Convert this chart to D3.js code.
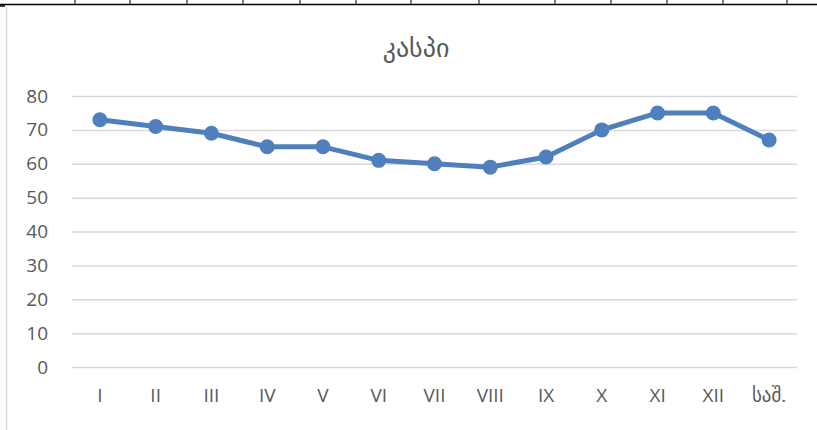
<!DOCTYPE html>
<html>
<head>
<meta charset="utf-8">
<script src="https://cdn.jsdelivr.net/npm/d3@7"></script>
<style>
  body { margin: 0; background: #fff; }
  svg { display: block; }
</style>
</head>
<body>
<div id="graf"></div>
<script>
const categorias = ["I", "II", "III", "IV", "V", "VI", "VII", "VIII", "IX", "X", "XI", "XII", "საშ."]
const valores = [73, 71, 69, 65, 65, 61, 60, 59, 62, 70, 75, 75, 67]
const yTicks = [0, 10, 20, 30, 40, 50, 60, 70, 80]
// marcas del borde de tabla arriba (px)
const bordeMarcas = [75, 130, 187, 243, 300, 356, 411, 479, 555, 611, 667, 723, 787]

const anchoTotal = 817
const altoTotal = 430
const margins = { top: 96, right: 20, bottom: 63, left: 72 }
const ancho = 797 - margins.left
const alto = 367 - margins.top

const svg = d3.select("#graf")
  .append("svg")
  .attr("width", anchoTotal)
  .attr("height", altoTotal)

// borde de la tabla
svg.append("line")
  .attr("x1", 0).attr("x2", anchoTotal)
  .attr("y1", 4.5).attr("y2", 4.5)
  .attr("stroke", "#000").attr("stroke-width", 1.5)
svg.selectAll(".marca")
  .data(bordeMarcas)
  .enter()
  .append("line")
  .attr("x1", (d) => d).attr("x2", (d) => d)
  .attr("y1", 0).attr("y2", 4.5)
  .attr("stroke", "#000").attr("stroke-width", 1)
svg.append("line")
  .attr("x1", 0).attr("x2", 5)
  .attr("y1", 6).attr("y2", 6)
  .attr("stroke", "#000").attr("stroke-width", 1.5)
svg.append("line")
  .attr("x1", 6.5).attr("x2", 6.5)
  .attr("y1", 7).attr("y2", altoTotal)
  .attr("stroke", "#d9d9d9").attr("stroke-width", 1.5)

svg.append("text")
  .attr("x", 416)
  .attr("y", 57)
  .attr("text-anchor", "middle")
  .attr("font-family", "DejaVu Sans, sans-serif")
  .attr("font-size", 26)
  .attr("fill", "#595959")
  .text("კასპი")

const g = svg.append("g")
  .attr("transform", `translate(${margins.left}, ${margins.top})`)

const x = d3.scaleBand().domain(categorias).range([0, ancho])
const y = d3.scaleLinear().domain([0, 80]).range([alto, 0])

const yAxis = g.append("g")
  .call(d3.axisLeft(y).tickValues(yTicks).tickSize(-ancho).tickPadding(24))
yAxis.select(".domain").remove()
yAxis.selectAll(".tick line").attr("stroke", "#d9d9d9").attr("stroke-width", 1.5)
yAxis.selectAll(".tick text")
  .attr("font-family", "Open Sans, sans-serif")
  .attr("font-size", 19)
  .attr("fill", "#595959")

const xAxis = g.append("g")
  .attr("transform", `translate(0, ${alto})`)
  .call(d3.axisBottom(x).tickSize(0).tickPadding(22))
xAxis.select(".domain").remove()
xAxis.selectAll(".tick text")
  .attr("font-family", "Open Sans, DejaVu Sans, sans-serif")
  .attr("font-size", 19)
  .attr("fill", "#595959")

const linea = d3.line()
  .x((d, i) => x(categorias[i]) + x.bandwidth() / 2)
  .y((d) => y(d))

g.append("path")
  .datum(valores)
  .attr("d", linea)
  .attr("fill", "none")
  .attr("stroke", "#4f7fbd")
  .attr("stroke-width", 5)
  .attr("stroke-linejoin", "round")

g.selectAll("circle")
  .data(valores)
  .enter()
  .append("circle")
  .attr("cx", (d, i) => x(categorias[i]) + x.bandwidth() / 2)
  .attr("cy", (d) => y(d))
  .attr("r", 7.5)
  .attr("fill", "#4f7fbd")
</script>
</body>
</html>
